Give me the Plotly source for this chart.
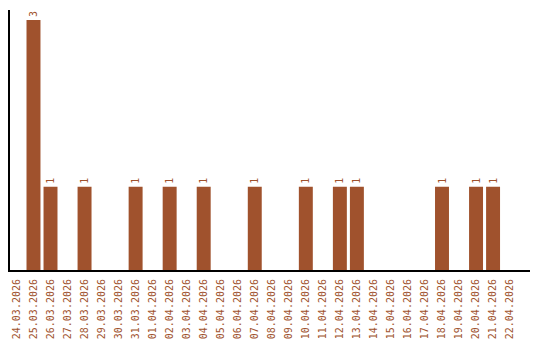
import plotly.graph_objects as go

dates = ["24.03.2026", "25.03.2026", "26.03.2026", "27.03.2026", "28.03.2026", "29.03.2026",
         "30.03.2026", "31.03.2026", "01.04.2026", "02.04.2026", "03.04.2026", "04.04.2026",
         "05.04.2026", "06.04.2026", "07.04.2026", "08.04.2026", "09.04.2026", "10.04.2026",
         "11.04.2026", "12.04.2026", "13.04.2026", "14.04.2026", "15.04.2026", "16.04.2026",
         "17.04.2026", "18.04.2026", "19.04.2026", "20.04.2026", "21.04.2026", "22.04.2026"]
counts = [0, 3, 1, 0, 1, 0, 0, 1, 0, 1, 0, 1, 0, 0, 1, 0, 0, 1, 0, 1, 1, 0, 0, 0, 0, 1, 0, 1, 1, 0]

color = "#a0522d"
fontfam = "DejaVu Sans Mono"
labels = [str(v) if v else "" for v in counts]

fig = go.Figure(go.Bar(
    x=dates, y=counts, marker_color=color, marker_line_width=0,
    text=labels, textposition="outside", textangle=-90,
    textfont=dict(family=fontfam, size=10, color=color),
    cliponaxis=False, constraintext="none",
))
fig.update_layout(
    width=540, height=340, margin=dict(l=10, r=10, t=10, b=70, autoexpand=False),
    paper_bgcolor="white", plot_bgcolor="white", showlegend=False,
    bargap=0.18,
    font=dict(family=fontfam, size=10, color=color),
)
fig.update_xaxes(type="category", range=[-0.38, 30.17], tickangle=-90, automargin=False,
                 showline=True, linecolor="black", linewidth=2, showgrid=False,
                 ticks="", ticklabelstandoff=3,
                 tickfont=dict(family=fontfam, size=10, color=color))
fig.update_yaxes(range=[0, 3.12], showline=True, linecolor="black", linewidth=2, automargin=False,
                 showgrid=False, zeroline=False, showticklabels=False, ticks="")
fig.write_html("out.html")
